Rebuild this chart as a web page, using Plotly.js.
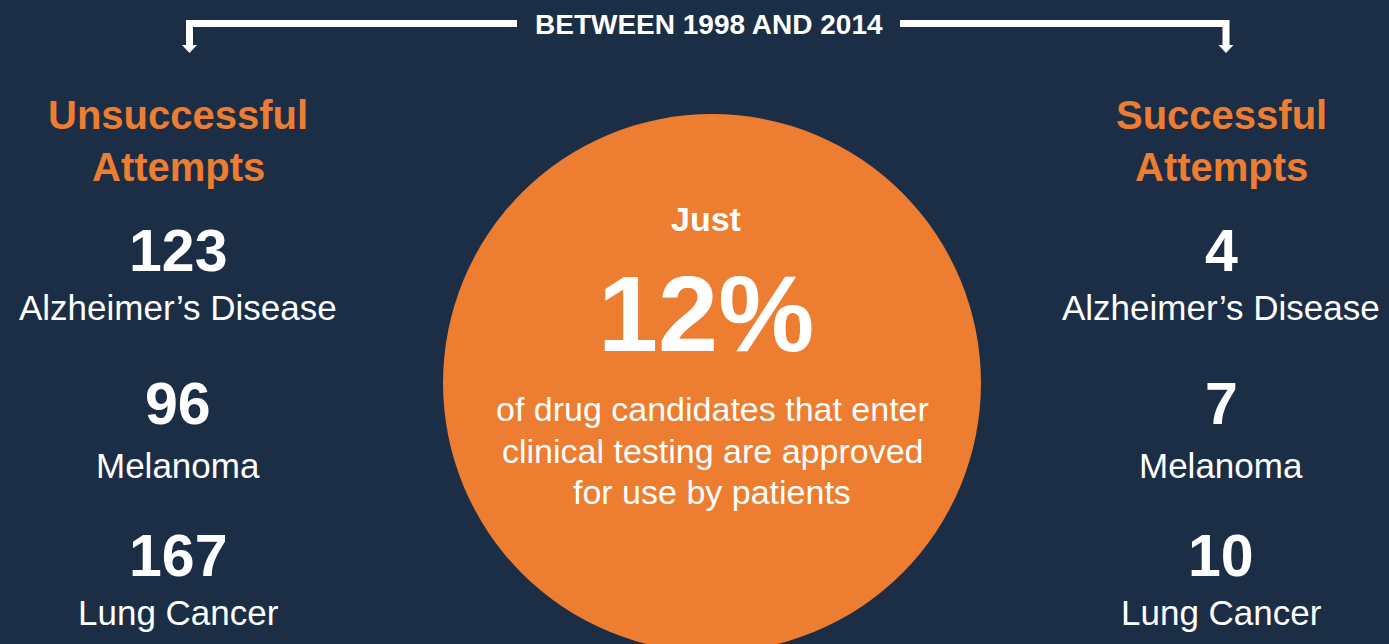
<!DOCTYPE html>
<html>
<head>
<meta charset="utf-8">
<script src="https://cdn.plot.ly/plotly-3.0.1.min.js"></script>
<style>
  html, body { margin: 0; padding: 0; background: #1c2d46; }
  #chart { width: 1389px; height: 644px; }
</style>
</head>
<body>
<div id="chart"></div>
<script>
// ---- data ----
const periodLabel = "BETWEEN 1998 AND 2014";
const diseases = ["Alzheimer’s Disease", "Melanoma", "Lung Cancer"];
const unsuccessful = [123, 96, 167];
const successful = [4, 7, 10];
const groupTitles = ["Unsuccessful<br>Attempts", "Successful<br>Attempts"];
const approvalPct = 12;
const circleLead = "Just";
const circleText = ["of drug candidates that enter", "clinical testing are approved", "for use by patients"];

// ---- styling / layout ----
const W = 1389, H = 644;
const BG = "#1c2d46";
const ORANGE = "#ed7d31";
const WHITE = "#ffffff";
const FONT = "Liberation Sans, Arial, sans-serif";

const colX = [178, 1221];
const numY = [251, 404, 556];
const labY = [307, 465, 612];

const annotations = [];
function ann(x, y, text, size, color, bold) {
  annotations.push({
    x: x, y: y, xref: "x", yref: "y", text: bold ? "<b>" + text + "</b>" : text,
    showarrow: false, xanchor: "center", yanchor: "middle",
    font: {family: FONT, size: size, color: color}
  });
}

// period label
ann(709, 24, periodLabel, 28, WHITE, true);

// group titles
[0, 1].forEach(function (g) {
  const parts = groupTitles[g].split("<br>");
  ann(colX[g], 115, parts[0], 40, ORANGE, true);
  ann(colX[g], 167, parts[1], 40, ORANGE, true);
});

// values
[unsuccessful, successful].forEach(function (series, g) {
  series.forEach(function (v, i) {
    ann(colX[g], numY[i], String(v), 59, WHITE, true);
    ann(colX[g], labY[i], diseases[i], 35, WHITE, false);
  });
});

// circle text
const cx = 712, cy = 383, r = 269;
ann(706, 219, circleLead, 34, WHITE, true);
ann(706, 313, approvalPct + "%", 108, WHITE, true);
circleText.forEach(function (t, i) {
  ann(cx, 409 + i * 41.5, t, 34, WHITE, false);
});

const shapes = [
  // circle
  {type: "circle", xref: "x", yref: "y", x0: cx - r, x1: cx + r, y0: cy - r, y1: cy + r,
   fillcolor: ORANGE, line: {width: 0}, layer: "below"},
  // bracket left
  {type: "path", xref: "x", yref: "y", path: "M 517 23.5 L 189.5 23.5 L 189.5 46",
   line: {color: WHITE, width: 7}, fillcolor: "rgba(0,0,0,0)"},
  {type: "path", xref: "x", yref: "y", path: "M 182 45 L 197 45 L 189.5 53 Z",
   line: {color: WHITE, width: 0}, fillcolor: WHITE},
  // bracket right
  {type: "path", xref: "x", yref: "y", path: "M 900 23.5 L 1226 23.5 L 1226 46",
   line: {color: WHITE, width: 7}, fillcolor: "rgba(0,0,0,0)"},
  {type: "path", xref: "x", yref: "y", path: "M 1218.5 45 L 1233.5 45 L 1226 53 Z",
   line: {color: WHITE, width: 0}, fillcolor: WHITE}
];

const layout = {
  width: W, height: H,
  margin: {l: 0, r: 0, t: 0, b: 0, pad: 0},
  paper_bgcolor: BG, plot_bgcolor: BG,
  xaxis: {range: [0, W], visible: false, fixedrange: true},
  yaxis: {range: [H, 0], visible: false, fixedrange: true},
  showlegend: false,
  shapes: shapes,
  annotations: annotations
};

Plotly.newPlot("chart", [], layout, {displayModeBar: false, staticPlot: true});
</script>
</body>
</html>
